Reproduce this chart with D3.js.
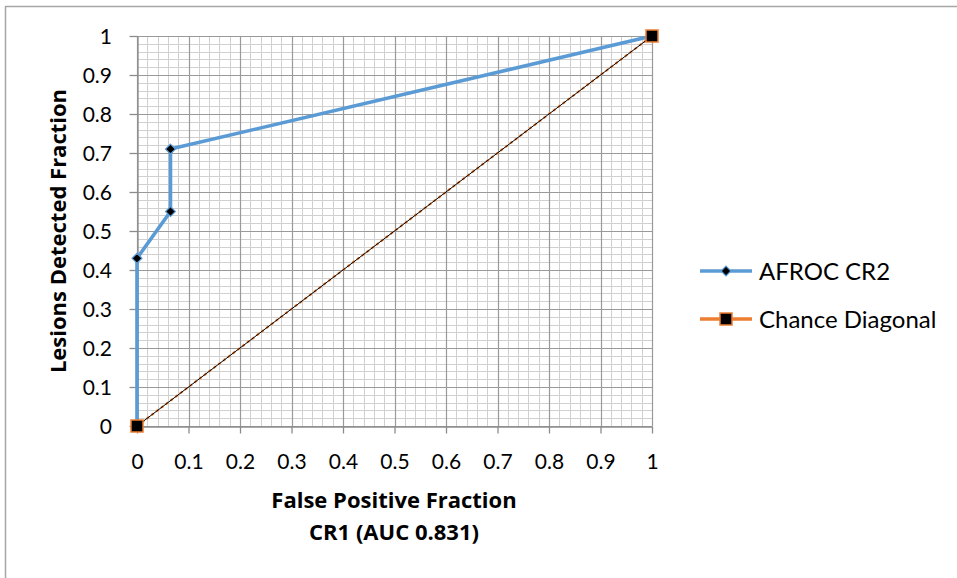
<!DOCTYPE html>
<html><head><meta charset="utf-8">
<script src="https://cdn.jsdelivr.net/npm/d3@7"></script>
<style>body{margin:0;background:#fff}svg{display:block}</style>
</head><body>
<svg id="c" width="957" height="578"></svg>
<script>
const afrocFPF = [0, 0, 0.065, 0.065, 1];
const afrocLDF = [0, 0.43, 0.55, 0.71, 1];
const chanceFPF = [0, 1];
const chanceLDF = [0, 1];
const tickValues = [0,0.1,0.2,0.3,0.4,0.5,0.6,0.7,0.8,0.9,1];
const seriesNames = ["AFROC CR2", "Chance Diagonal"];

const svg = d3.select("#c");
const font = "Lato, 'Open Sans', sans-serif";
const tfont = "'Open Sans', Lato, sans-serif";
svg.append("rect").attr("x",5.5).attr("y",6.5).attr("width",960).attr("height",580)
  .attr("fill","#fff").attr("stroke","#a6a6a6").attr("stroke-width",1.5);

const x = d3.scaleLinear().domain([0,1]).range([137,652]);
const y = d3.scaleLinear().domain([0,1]).range([426,36]);

const minor = d3.range(0,1.0001,0.02);
const g = svg.append("g");
minor.forEach((v,i)=>{
  if(i%5===0) return;
  g.append("line").attr("x1",Math.round(x(v))+0.5).attr("x2",Math.round(x(v))+0.5).attr("y1",y(1)).attr("y2",y(0)).attr("stroke","#d0d0d0").attr("stroke-width",1);
  g.append("line").attr("y1",Math.round(y(v))+0.5).attr("y2",Math.round(y(v))+0.5).attr("x1",x(0)).attr("x2",x(1)).attr("stroke","#d0d0d0").attr("stroke-width",1);
});
tickValues.forEach(v=>{
  g.append("line").attr("x1",Math.round(x(v))+0.5).attr("x2",Math.round(x(v))+0.5).attr("y1",y(1)).attr("y2",y(0)).attr("stroke","#9a9a9a").attr("stroke-width",1.2);
  g.append("line").attr("y1",Math.round(y(v))+0.5).attr("y2",Math.round(y(v))+0.5).attr("x1",x(0)).attr("x2",x(1)).attr("stroke","#9a9a9a").attr("stroke-width",1.2);
});

const xAxis = d3.axisBottom(x).tickValues(tickValues).tickFormat(d3.format("")).tickSizeInner(7).tickSizeOuter(0);
const yAxis = d3.axisLeft(y).tickValues(tickValues).tickFormat(d3.format("")).tickSizeInner(8).tickSizeOuter(0);
const gx = svg.append("g").attr("transform","translate(0,426.5)").call(xAxis);
const gy = svg.append("g").attr("transform","translate(137.5,0)").call(yAxis);
[gx,gy].forEach(a=>{
  a.select(".domain").attr("stroke","#8c8c8c").attr("stroke-width",1.3);
  a.selectAll(".tick line").attr("stroke","#8c8c8c").attr("stroke-width",1.3);
  a.selectAll("text").attr("font-family",font).attr("font-size",21).attr("fill","#000");
});
gx.selectAll("text").attr("y",42.5).attr("dy",0);
gy.selectAll("text").attr("x",-25.5).attr("dy","0.36em");

const chance = chanceFPF.map((v,i)=>[v,chanceLDF[i]]);
const afroc = afrocFPF.map((v,i)=>[v,afrocLDF[i]]);
const line = d3.line().x(d=>x(d[0])).y(d=>y(d[1]));
svg.append("path").attr("d",line(afroc)).attr("fill","none").attr("stroke","#5b9bd5").attr("stroke-width",3.6).attr("stroke-linejoin","round");
svg.append("path").attr("d",line(chance)).attr("fill","none").attr("stroke","#ed7d31").attr("stroke-width",2.2).attr("stroke-dasharray","3,3");
svg.append("path").attr("d",line(chance)).attr("fill","none").attr("stroke","#000").attr("stroke-width",1);

const diamond = d3.symbol().type(d3.symbolDiamond2).size(62);
svg.selectAll(".dm").data(afroc).enter().append("path")
  .attr("transform",d=>`translate(${x(d[0])},${y(d[1])})`).attr("d",diamond)
  .attr("fill","#000").attr("stroke","#5b9bd5").attr("stroke-width",1.2);
svg.selectAll(".sq").data(chance).enter().append("rect")
  .attr("x",d=>x(d[0])-6).attr("y",d=>y(d[1])-6).attr("width",12).attr("height",12)
  .attr("fill","#000").attr("stroke","#ed7d31").attr("stroke-width",1.5);

svg.append("text").attr("x",394).attr("y",508).attr("text-anchor","middle").attr("font-family",tfont).attr("font-weight","bold").attr("font-size",22).text("False Positive Fraction");
svg.append("text").attr("x",394).attr("y",540).attr("text-anchor","middle").attr("font-family",tfont).attr("font-weight","bold").attr("font-size",22).text("CR1 (AUC 0.831)");
svg.append("text").attr("transform","translate(66,231) rotate(-90)").attr("text-anchor","middle").attr("font-family",tfont).attr("font-weight","bold").attr("font-size",22).text("Lesions Detected Fraction");

const legY = [271, 319];
const colors = ["#5b9bd5","#ed7d31"];
seriesNames.forEach((n,i)=>{
  const ly = legY[i];
  svg.append("line").attr("x1",700).attr("x2",752).attr("y1",ly).attr("y2",ly).attr("stroke",colors[i]).attr("stroke-width",3.6);
  if(i===0){
    svg.append("path").attr("transform",`translate(726,${ly})`).attr("d",diamond).attr("fill","#000").attr("stroke","#5b9bd5").attr("stroke-width",1.2);
  } else {
    svg.append("rect").attr("x",726-6).attr("y",ly-6).attr("width",12).attr("height",12).attr("fill","#000").attr("stroke","#ed7d31").attr("stroke-width",1.5);
  }
  svg.append("text").attr("x",759).attr("y",ly).attr("dy","0.36em").attr("font-family",font).attr("font-size",24).text(n);
});
</script>
</body></html>
